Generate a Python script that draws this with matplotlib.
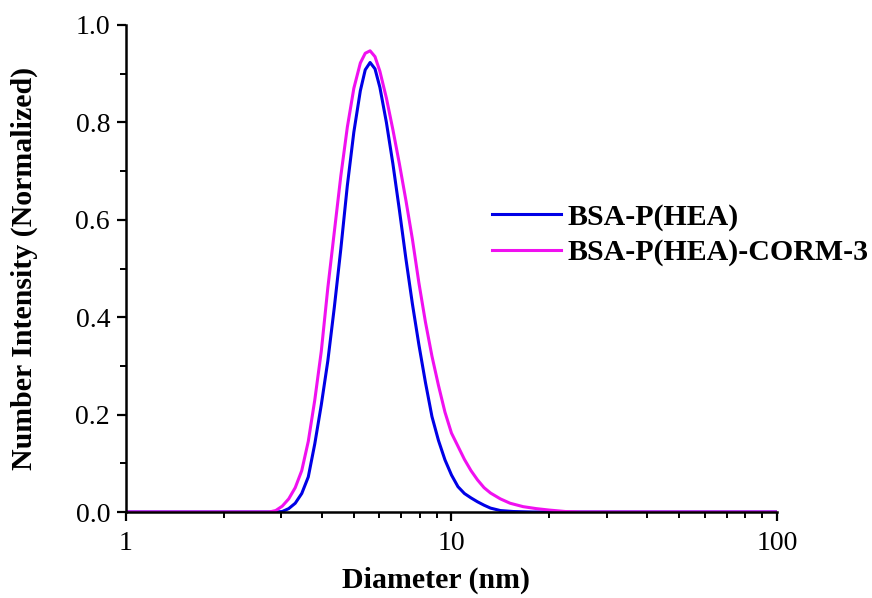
import numpy as np
import matplotlib.pyplot as plt
from matplotlib.ticker import MultipleLocator, FixedLocator, NullFormatter

plt.rcParams['font.family'] = ['Liberation Serif', 'DejaVu Serif']

# diameter (nm) / normalized number intensity
d_hea = [1.0, 2.0, 2.884, 3.020, 3.162, 3.311, 3.467, 3.631, 3.802, 3.981, 4.169, 4.365, 4.571,
         4.786, 5.012, 5.248, 5.433, 5.623, 5.821, 6.026, 6.310, 6.607, 6.918, 7.244, 7.586,
         7.943, 8.318, 8.710, 9.120, 9.550, 10.0, 10.47, 10.96, 11.48, 12.02, 12.59, 13.18,
         14.13, 15.49, 17.78, 100.0]
v_hea = [0.0, 0.0, 0.0, 0.001, 0.007, 0.018, 0.038, 0.072, 0.14, 0.22, 0.31, 0.42, 0.54,
         0.67, 0.78, 0.865, 0.908, 0.923, 0.91, 0.872, 0.80, 0.715, 0.62, 0.52, 0.427,
         0.343, 0.266, 0.196, 0.147, 0.107, 0.076, 0.052, 0.038, 0.029, 0.021, 0.014, 0.008,
         0.003, 0.001, 0.0, 0.0]

d_corm = [1.0, 2.0, 2.754, 2.884, 3.020, 3.162, 3.311, 3.467, 3.631, 3.802, 3.981, 4.169, 4.365,
          4.571, 4.786, 5.012, 5.248, 5.433, 5.623, 5.821, 6.026, 6.310, 6.607, 6.918, 7.244,
          7.586, 7.943, 8.318, 8.710, 9.120, 9.550, 10.0, 10.47, 10.96, 11.48, 12.02, 12.59,
          13.18, 14.13, 15.14, 16.60, 18.20, 19.95, 22.39, 25.12, 100.0]
v_corm = [0.0, 0.0, 0.0, 0.003, 0.012, 0.027, 0.05, 0.085, 0.145, 0.23, 0.33, 0.46, 0.575,
          0.69, 0.79, 0.87, 0.922, 0.942, 0.947, 0.935, 0.905, 0.85, 0.785, 0.715, 0.64,
          0.56, 0.47, 0.39, 0.32, 0.26, 0.205, 0.162, 0.135, 0.108, 0.085, 0.066, 0.05,
          0.039, 0.027, 0.018, 0.011, 0.007, 0.004, 0.001, 0.0, 0.0]

labels = ['BSA-P(HEA)', 'BSA-P(HEA)-CORM-3']

fig = plt.figure(figsize=(8.72, 5.98), dpi=100)
ax = fig.add_axes([0.1445, 0.1438, 0.7465, 0.8144])

ax.plot(d_hea, v_hea, color='#0000e6', lw=2.2, label=labels[0], solid_joinstyle='round')
ax.plot(d_corm, v_corm, color='#f010f0', lw=2.2, label=labels[1], solid_joinstyle='round')

ax.set_xscale('log')
ax.set_xlim(1, 100)
ax.set_ylim(0, 1.0)
ax.xaxis.set_major_locator(FixedLocator([1, 10, 100]))
ax.set_xticklabels(['1', '10', '100'])
ax.xaxis.set_minor_locator(FixedLocator([i * 10 ** k for k in range(2) for i in range(2, 10)]))
ax.xaxis.set_minor_formatter(NullFormatter())
ax.yaxis.set_major_locator(MultipleLocator(0.2))
ax.yaxis.set_minor_locator(MultipleLocator(0.1))
ax.yaxis.set_major_formatter(plt.FuncFormatter(lambda v, p: '%.1f' % v))

for s in ['top', 'right']:
    ax.spines[s].set_visible(False)
for s in ['left', 'bottom']:
    ax.spines[s].set_linewidth(1.8)
ax.tick_params(which='major', direction='out', length=6.5, width=1.6, labelsize=20)
ax.tick_params(which='minor', direction='out', length=4, width=1.4)
ax.tick_params(axis='y', which='major', pad=5)
ax.tick_params(axis='x', which='major', pad=7)

ax.set_xlabel('Diameter (nm)', fontsize=21.5, fontweight='bold', labelpad=8)
ax.xaxis.label.set_x(0.476)
ax.set_ylabel('Number Intensity (Normalized)', fontsize=21.5, fontweight='bold', labelpad=27)

leg = ax.legend(loc='upper left', bbox_to_anchor=(0.562, 0.633), frameon=False,
                prop={'size': 21.5, 'weight': 'bold'}, handlelength=2.33,
                handletextpad=0.2, labelspacing=0.27, borderpad=0, borderaxespad=0)

fig.savefig('out.png', dpi=100)
